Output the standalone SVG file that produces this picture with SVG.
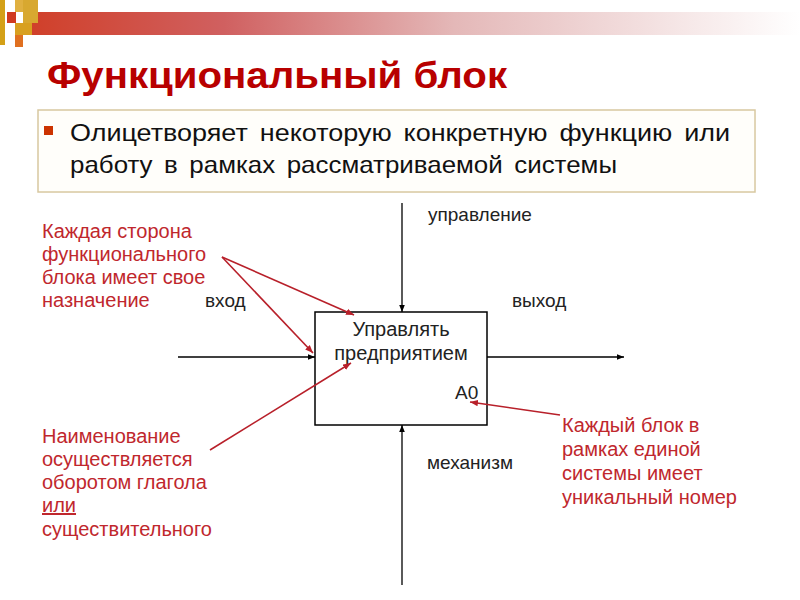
<svg xmlns="http://www.w3.org/2000/svg" width="800" height="600" viewBox="0 0 800 600">
<defs>
<linearGradient id="bar" x1="0" y1="0" x2="1" y2="0">
<stop offset="0" stop-color="#D0402A"/>
<stop offset="0.25" stop-color="#D06060"/>
<stop offset="0.55" stop-color="#E4B8B8"/>
<stop offset="1" stop-color="#FFFFFF"/>
</linearGradient>
<marker id="ab" viewBox="0 0 10 10" refX="10" refY="5" markerWidth="7" markerHeight="7" orient="auto" markerUnits="userSpaceOnUse">
<path d="M0,1 L10,5 L0,9 Z" fill="#000"/>
</marker>
<marker id="ar" viewBox="0 0 10 10" refX="10" refY="5" markerWidth="8" markerHeight="8" orient="auto" markerUnits="userSpaceOnUse">
<path d="M0,1 L10,5 L0,9 Z" fill="#B8202A"/>
</marker>
</defs>
<style>
.t{font-family:"Liberation Sans",Arial,sans-serif}
.lbl{font-size:19px;fill:#222}
.red{font-size:20px;fill:#C0272D}
.ln{stroke:#000;stroke-width:1.3;fill:none}
.rl{stroke:#B8202A;stroke-width:1.6;fill:none}
</style>
<rect width="800" height="600" fill="#fff"/>
<g id="decor">
<rect x="32" y="12" width="768" height="23" fill="url(#bar)"/>
<rect x="0" y="0" width="5" height="45" fill="#D4A017"/>
<rect x="7" y="12" width="9" height="11" fill="#D03A20"/>
<rect x="15" y="0" width="17" height="12" fill="#E0B040"/>
<rect x="23" y="0" width="15" height="23" fill="#D8A830"/>
<rect x="15" y="23" width="17" height="12" fill="#D8A020"/>
<rect x="15" y="35" width="8" height="12" fill="#E07020"/>
</g>
<g id="title">
<text class="t" x="47" y="88" font-size="36" font-weight="bold" fill="#B80000" textLength="460" lengthAdjust="spacingAndGlyphs">Функциональный блок</text>
</g>
<g id="bullet-box">
<rect x="38" y="110" width="717" height="82" fill="#FFFEFA" stroke="#D8C8A0" stroke-width="1.5"/>
<rect x="44" y="126" width="9" height="9" fill="#CC3300"/>
<text class="t" x="70" y="141" font-size="24" fill="#111" word-spacing="4" textLength="660" lengthAdjust="spacingAndGlyphs">Олицетворяет некоторую конкретную функцию или</text>
<text class="t" x="70" y="173" font-size="24" fill="#111" word-spacing="4" textLength="547" lengthAdjust="spacingAndGlyphs">работу в рамках рассматриваемой системы</text>
</g>
<g id="block">
<rect x="315" y="312" width="172" height="113" fill="#fff" stroke="#000" stroke-width="1.5"/>
<text class="t" x="401" y="336" font-size="20" fill="#222" text-anchor="middle">Управлять</text>
<text class="t" x="401" y="360" font-size="20" fill="#222" text-anchor="middle">предприятием</text>
<text class="t" x="455" y="399" font-size="19" fill="#222">А0</text>
</g>
<g id="connectors">
<line class="ln" x1="402" y1="203" x2="402" y2="312" marker-end="url(#ab)"/>
<line class="ln" x1="178" y1="357" x2="315" y2="357" marker-end="url(#ab)"/>
<line class="ln" x1="487" y1="357" x2="624" y2="357" marker-end="url(#ab)"/>
<line class="ln" x1="402" y1="585" x2="402" y2="425" marker-end="url(#ab)"/>
<line class="rl" x1="222" y1="257" x2="354" y2="315" marker-end="url(#ar)"/>
<line class="rl" x1="222" y1="257" x2="313" y2="353" marker-end="url(#ar)"/>
<line class="rl" x1="210" y1="450" x2="351" y2="363" marker-end="url(#ar)"/>
<line class="rl" x1="560" y1="415" x2="470" y2="402" marker-end="url(#ar)"/>
</g>
<g id="labels">
<text class="t lbl" x="428" y="221">управление</text>
<text class="t lbl" x="205" y="307">вход</text>
<text class="t lbl" x="512" y="307">выход</text>
<text class="t lbl" x="427" y="469">механизм</text>
</g>
<g id="note-sides">
<text class="t red" x="42" y="238">Каждая сторона</text>
<text class="t red" x="42" y="261">функционального</text>
<text class="t red" x="42" y="284">блока имеет свое</text>
<text class="t red" x="42" y="307">назначение</text>
</g>
<g id="note-name">
<text class="t red" x="42" y="443">Наименование</text>
<text class="t red" x="42" y="466">осуществляется</text>
<text class="t red" x="42" y="489">оборотом глагола</text>
<text class="t red" x="42" y="512" text-decoration="underline">или</text>
<text class="t red" x="42" y="536">существительного</text>
</g>
<g id="note-number">
<text class="t red" x="562" y="432">Каждый блок в</text>
<text class="t red" x="562" y="456">рамках единой</text>
<text class="t red" x="562" y="480">системы имеет</text>
<text class="t red" x="562" y="504">уникальный номер</text>
</g>
</svg>
